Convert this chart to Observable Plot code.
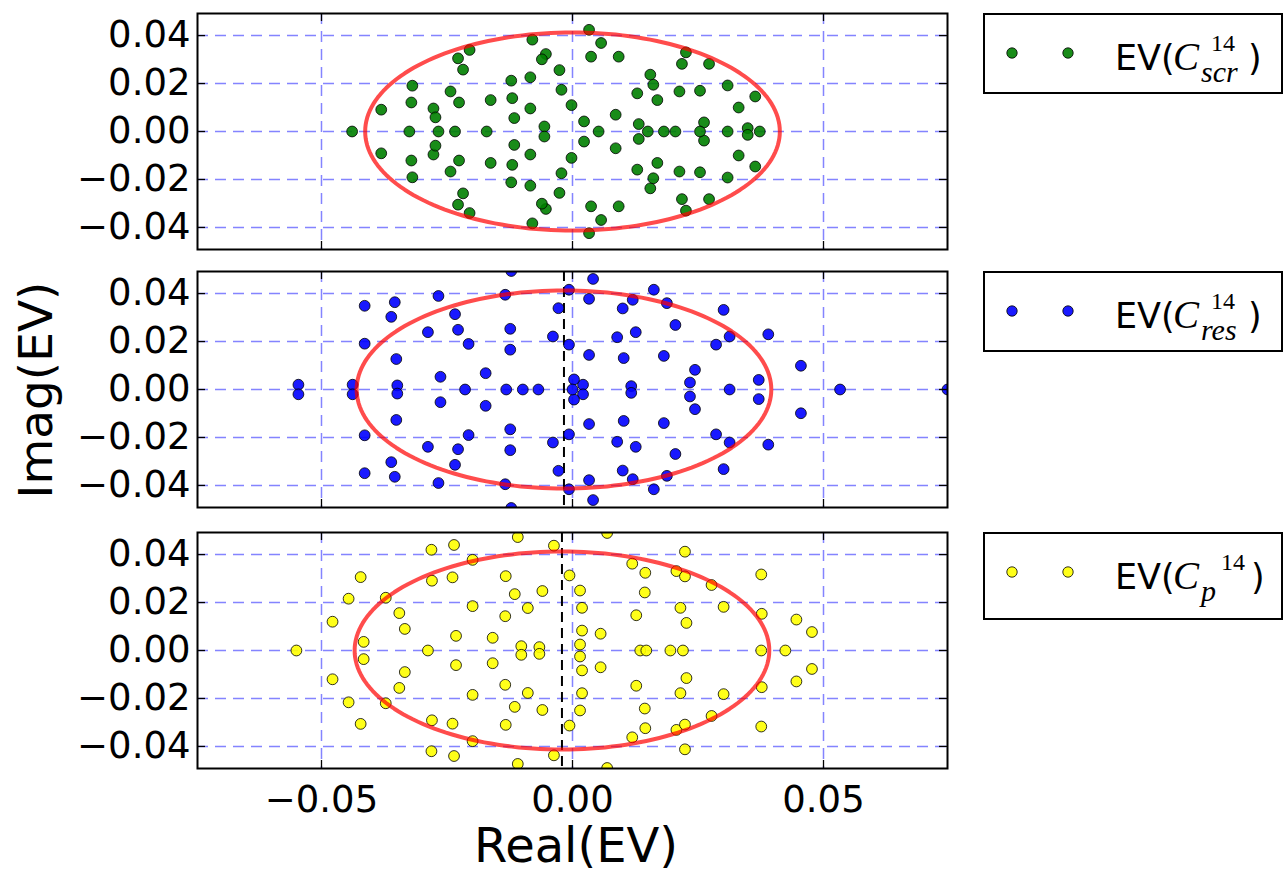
<!DOCTYPE html>
<html>
<head>
<meta charset="utf-8">
<script src="https://cdn.jsdelivr.net/npm/d3@7"></script>
<script src="https://cdn.jsdelivr.net/npm/@observablehq/plot@0.6"></script>
<style>
  html, body { margin: 0; padding: 0; background: #fff; }
  #root { position: relative; width: 1286px; height: 874px; overflow: hidden; background: #fff; }
  .panel { position: absolute; left: 0; }
  #overlay { position: absolute; left: 0; top: 0; pointer-events: none; }
</style>
</head>
<body>
<div id="root"></div>
<script>
// ---------------- data ----------------
const xTicks = [-0.05, 0.00, 0.05];
const yTicks = [-0.04, -0.02, 0.00, 0.02, 0.04];
const xDomain = [-0.0747, 0.0747];
const yDomain = [-0.0492, 0.0492];

const seriesNames = ["scr", "res", "p"];
const seriesColors = ["#008000", "#0000ff", "#ffff00"];
const circleCenters = [0.0000, -0.0017, -0.0021];
const circleRadius = 0.0413;
const showCenterLine = [false, true, true];

// eigenvalues (real, imag)
const scrEigs = [
  [-0.0080, 0.0383], [-0.0080, -0.0383], [-0.0053, 0.0323], [-0.0053, -0.0323],
  [-0.0061, 0.0301], [-0.0061, -0.0301], [-0.0026, 0.0256], [-0.0026, -0.0256],
  [-0.0022, 0.0174], [-0.0022, -0.0174], [-0.0002, 0.0110], [-0.0002, -0.0110],
  [-0.0205, 0.0340], [-0.0205, -0.0340], [-0.0228, 0.0305], [-0.0228, -0.0305],
  [-0.0218, 0.0258], [-0.0218, -0.0258], [-0.0319, 0.0191], [-0.0319, -0.0191],
  [-0.0321, 0.0121], [-0.0321, -0.0121], [-0.0381, 0.0091], [-0.0381, -0.0091],
  [-0.0243, 0.0167], [-0.0243, -0.0167], [-0.0226, 0.0121], [-0.0226, -0.0121],
  [-0.0277, 0.0096], [-0.0277, -0.0096], [-0.0273, 0.0059], [-0.0273, -0.0059],
  [-0.0163, 0.0131], [-0.0163, -0.0131], [-0.0122, 0.0212], [-0.0122, -0.0212],
  [-0.0120, 0.0139], [-0.0120, -0.0139], [-0.0084, 0.0226], [-0.0084, -0.0226],
  [-0.0084, 0.0096], [-0.0084, -0.0096], [-0.0116, 0.0056], [-0.0116, -0.0056],
  [-0.0056, 0.0021], [-0.0056, -0.0021],
  [0.0033, 0.0424], [0.0033, -0.0424], [0.0057, 0.0369], [0.0057, -0.0369],
  [0.0037, 0.0312], [0.0037, -0.0312], [0.0092, 0.0312], [0.0092, -0.0312],
  [0.0226, 0.0330], [0.0226, -0.0330], [0.0218, 0.0282], [0.0218, -0.0282],
  [0.0272, 0.0282], [0.0272, -0.0282], [0.0155, 0.0237], [0.0155, -0.0237],
  [0.0161, 0.0195], [0.0161, -0.0195], [0.0129, 0.0159], [0.0129, -0.0159],
  [0.0169, 0.0131], [0.0169, -0.0131], [0.0213, 0.0167], [0.0213, -0.0167],
  [0.0254, 0.0170], [0.0254, -0.0170], [0.0309, 0.0192], [0.0309, -0.0192],
  [0.0364, 0.0146], [0.0364, -0.0146], [0.0331, 0.0100], [0.0331, -0.0100],
  [0.0086, 0.0070], [0.0086, -0.0070], [0.0023, 0.0042], [0.0023, -0.0042],
  [0.0132, 0.0031], [0.0132, -0.0031], [0.0262, 0.0038], [0.0262, -0.0038],
  [0.0349, 0.0014], [0.0349, -0.0014],
  [-0.0439, 0], [-0.0325, 0], [-0.0267, 0], [-0.0234, 0], [-0.0171, 0], [0.0052, 0],
  [0.0150, 0], [0.0182, 0], [0.0205, 0], [0.0254, 0], [0.0309, 0], [0.0373, 0]
];

const resEigs = [
  [-0.0122, 0.0494], [-0.0122, -0.0494], [-0.0134, 0.0395], [-0.0134, -0.0395],
  [-0.0007, 0.0416], [-0.0007, -0.0416], [-0.0028, 0.0339], [-0.0028, -0.0339],
  [-0.0414, 0.0349], [-0.0414, -0.0349], [-0.0354, 0.0364], [-0.0354, -0.0364],
  [-0.0361, 0.0303], [-0.0361, -0.0303], [-0.0267, 0.0390], [-0.0267, -0.0390],
  [-0.0234, 0.0314], [-0.0234, -0.0314], [-0.0288, 0.0239], [-0.0288, -0.0239],
  [-0.0228, 0.0249], [-0.0228, -0.0249], [-0.0207, 0.0190], [-0.0207, -0.0190],
  [-0.0124, 0.0253], [-0.0124, -0.0253], [-0.0124, 0.0166], [-0.0124, -0.0166],
  [-0.0039, 0.0221], [-0.0039, -0.0221], [-0.0007, 0.0187], [-0.0007, -0.0187],
  [-0.0414, 0.0191], [-0.0414, -0.0191], [-0.0351, 0.0127], [-0.0351, -0.0127],
  [-0.0263, 0.0053], [-0.0263, -0.0053], [-0.0173, 0.0068], [-0.0173, -0.0068],
  [-0.0546, 0.0020], [-0.0546, -0.0020], [-0.0438, 0.0020], [-0.0438, -0.0020],
  [-0.0349, 0.0017], [-0.0349, -0.0017],
  [0.0041, 0.0461], [0.0041, -0.0461], [0.0033, 0.0378], [0.0033, -0.0378],
  [0.0162, 0.0416], [0.0162, -0.0416], [0.0120, 0.0374], [0.0120, -0.0374],
  [0.0100, 0.0338], [0.0100, -0.0338], [0.0188, 0.0360], [0.0188, -0.0360],
  [0.0301, 0.0332], [0.0301, -0.0332], [0.0205, 0.0269], [0.0205, -0.0269],
  [0.0126, 0.0239], [0.0126, -0.0239], [0.0089, 0.0218], [0.0089, -0.0218],
  [0.0313, 0.0221], [0.0313, -0.0221], [0.0390, 0.0230], [0.0390, -0.0230],
  [0.0286, 0.0187], [0.0286, -0.0187], [0.0033, 0.0144], [0.0033, -0.0144],
  [0.0102, 0.0131], [0.0102, -0.0131], [0.0182, 0.0140], [0.0182, -0.0140],
  [0.0244, 0.0082], [0.0244, -0.0082], [0.0234, 0.0029], [0.0234, -0.0029],
  [0.0371, 0.0040], [0.0371, -0.0040], [0.0455, 0.0099], [0.0455, -0.0099],
  [0.0117, 0.0014], [0.0117, -0.0014], [0.0021, 0.0020], [0.0021, -0.0020],
  [0.0003, 0.0042], [0.0003, -0.0042],
  [-0.0214, 0], [-0.0132, 0], [-0.0099, 0], [-0.0068, 0], [0.0000, 0],
  [0.0313, 0], [0.0533, 0], [0.0747, 0]
];

const pEigs = [
  [-0.0109, 0.0473], [-0.0109, -0.0473], [-0.0037, 0.0437], [-0.0037, -0.0437],
  [-0.0281, 0.0420], [-0.0281, -0.0420], [-0.0236, 0.0440], [-0.0236, -0.0440],
  [-0.0199, 0.0378], [-0.0199, -0.0378], [-0.0006, 0.0313], [-0.0006, -0.0313],
  [-0.0133, 0.0310], [-0.0133, -0.0310], [-0.0422, 0.0306], [-0.0422, -0.0306],
  [-0.0280, 0.0291], [-0.0280, -0.0291], [-0.0239, 0.0305], [-0.0239, -0.0305],
  [-0.0115, 0.0235], [-0.0115, -0.0235], [-0.0060, 0.0248], [-0.0060, -0.0248],
  [-0.0446, 0.0216], [-0.0446, -0.0216], [-0.0372, 0.0220], [-0.0372, -0.0220],
  [-0.0199, 0.0185], [-0.0199, -0.0185], [-0.0089, 0.0177], [-0.0089, -0.0177],
  [-0.0134, 0.0143], [-0.0134, -0.0143], [-0.0345, 0.0156], [-0.0345, -0.0156],
  [-0.0478, 0.0120], [-0.0478, -0.0120], [-0.0334, 0.0090], [-0.0334, -0.0090],
  [-0.0416, 0.0036], [-0.0416, -0.0036], [-0.0232, 0.0061], [-0.0232, -0.0061],
  [-0.0159, 0.0053], [-0.0159, -0.0053], [-0.0102, 0.0018], [-0.0102, -0.0018],
  [-0.0066, 0.0014], [-0.0066, -0.0014],
  [0.0069, 0.0490], [0.0069, -0.0490], [0.0224, 0.0412], [0.0224, -0.0412],
  [0.0119, 0.0362], [0.0119, -0.0362], [0.0145, 0.0324], [0.0145, -0.0324],
  [0.0207, 0.0331], [0.0207, -0.0331], [0.0224, 0.0309], [0.0224, -0.0309],
  [0.0277, 0.0273], [0.0277, -0.0273], [0.0376, 0.0317], [0.0376, -0.0317],
  [0.0015, 0.0250], [0.0015, -0.0250], [0.0144, 0.0242], [0.0144, -0.0242],
  [0.0019, 0.0178], [0.0019, -0.0178], [0.0215, 0.0178], [0.0215, -0.0178],
  [0.0301, 0.0182], [0.0301, -0.0182], [0.0127, 0.0147], [0.0127, -0.0147],
  [0.0377, 0.0153], [0.0377, -0.0153], [0.0227, 0.0115], [0.0227, -0.0115],
  [0.0446, 0.0129], [0.0446, -0.0129], [0.0477, 0.0077], [0.0477, -0.0077],
  [0.0019, 0.0083], [0.0019, -0.0083], [0.0056, 0.0070], [0.0056, -0.0070],
  [0.0015, 0.0025], [0.0015, -0.0025],
  [-0.0550, 0], [-0.0288, 0], [0.0135, 0], [0.0147, 0], [0.0195, 0], [0.0220, 0],
  [0.0376, 0], [0.0424, 0]
];

const allEigs = [scrEigs, resEigs, pEigs];

// ---------------- layout ----------------
const panelTops = [0, 258, 519];
const plotW = 750, plotH = 236, tickLen = 8;
const fmt = d3.format(".2f");
const root = document.getElementById("root");

function panel(i) {
  const center = circleCenters[i];
  const angles = d3.range(0, 361, 2).map(a => a * Math.PI / 180);
  const ring = angles.map(a => ({x: center + circleRadius * Math.cos(a), y: circleRadius * Math.sin(a)}));
  const last = i === 2;
  const dxT = tickLen * (xDomain[1] - xDomain[0]) / plotW;
  const dyT = tickLen * (yDomain[1] - yDomain[0]) / plotH;
  const gridStyle = {stroke: "#6f6fff", strokeWidth: 1.5, strokeDasharray: "11,7", strokeOpacity: 0.85};
  const tickStyle = {stroke: "black", strokeWidth: 1.3};
  return Plot.plot({
    width: 960,
    height: 309,
    marginLeft: 197,
    marginRight: 13,
    marginTop: 13,
    marginBottom: 60,
    x: {domain: xDomain, axis: null},
    y: {domain: yDomain, axis: null},
    style: {fontFamily: "DejaVu Sans, sans-serif", fontSize: "37px", color: "black", background: "transparent", overflow: "visible"},
    marks: [
      Plot.ruleX(xTicks, {x: d => d, ...gridStyle}),
      Plot.ruleY(yTicks, {y: d => d, ...gridStyle}),
      showCenterLine[i] ? Plot.ruleX([center], {x: d => d, stroke: "black", strokeWidth: 2, strokeDasharray: "10,6"}) : null,
      Plot.dot(allEigs[i], {x: d => d[0], y: d => d[1], r: 5.4, fill: seriesColors[i], fillOpacity: 0.9, stroke: "black", strokeWidth: 0.8, clip: true}),
      Plot.line(ring, {x: "x", y: "y", stroke: "#ff0000", strokeOpacity: 0.7, strokeWidth: 4, curve: "linear"}),
      Plot.ruleY(yTicks, {y: d => d, x1: xDomain[0], x2: xDomain[0] + dxT, ...tickStyle}),
      Plot.ruleY(yTicks, {y: d => d, x1: xDomain[1] - dxT, x2: xDomain[1], ...tickStyle}),
      Plot.ruleX(xTicks, {x: d => d, y1: yDomain[1] - dyT, y2: yDomain[1], ...tickStyle}),
      Plot.ruleX(xTicks, {x: d => d, y1: yDomain[0], y2: yDomain[0] + dyT, ...tickStyle}),
      Plot.frame({stroke: "black", strokeWidth: 2}),
      Plot.axisY({ticks: yTicks, anchor: "left", tickSize: 0, tickPadding: 7, tickFormat: fmt, label: null}),
      last ? Plot.axisX({ticks: xTicks, anchor: "bottom", tickSize: 0, tickPadding: 17, tickFormat: fmt, label: null}) : null
    ]
  });
}

for (let i = 2; i >= 0; i--) {
  const p = panel(i);
  p.classList.add("panel");
  p.style.top = panelTops[i] + "px";
  root.appendChild(p);
}

// ---------------- legends & axis titles ----------------
const svg = d3.select(root).append("svg")
  .attr("id", "overlay").attr("width", 1286).attr("height", 874);

const legendTops = [13, 271, 532];
const legendHeights = [81, 81, 88];
legendTops.forEach((top, i) => {
  const g = svg.append("g").attr("transform", `translate(983,${top})`);
  g.append("rect").attr("x", 1).attr("y", 1).attr("width", 298).attr("height", legendHeights[i] - 2)
    .attr("fill", "white").attr("stroke", "black").attr("stroke-width", 2);
  [29, 85].forEach(cx => g.append("circle").attr("cx", cx).attr("cy", 40).attr("r", 5.2)
    .attr("fill", seriesColors[i]).attr("fill-opacity", 0.9).attr("stroke", "black").attr("stroke-width", 0.8));
  g.append("text").attr("x", 132).attr("y", 57).attr("font-family", "DejaVu Sans, sans-serif")
    .attr("font-size", 35).text("EV(");
  g.append("text").attr("x", 190).attr("y", 57).attr("font-family", "Liberation Serif, serif")
    .attr("font-style", "italic").attr("font-size", 39).text("C");
  const isP = seriesNames[i] === "p";
  g.append("text").attr("x", isP ? 238 : 228).attr("y", 38).attr("font-family", "Liberation Serif, serif")
    .attr("font-size", 24).text("14");
  g.append("text").attr("x", 218).attr("y", 69).attr("font-family", "Liberation Serif, serif")
    .attr("font-style", "italic").attr("font-size", 30).text(seriesNames[i]);
  g.append("text").attr("x", isP ? 268 : 265).attr("y", 57).attr("font-family", "DejaVu Sans, sans-serif")
    .attr("font-size", 35).text(")");
});

svg.append("text").attr("transform", "translate(52,390) rotate(-90)")
  .attr("text-anchor", "middle").attr("font-family", "DejaVu Sans, sans-serif").attr("font-size", 47)
  .text("Imag(EV)");
svg.append("text").attr("x", 576).attr("y", 862)
  .attr("text-anchor", "middle").attr("font-family", "DejaVu Sans, sans-serif").attr("font-size", 48)
  .text("Real(EV)");
</script>
</body>
</html>
